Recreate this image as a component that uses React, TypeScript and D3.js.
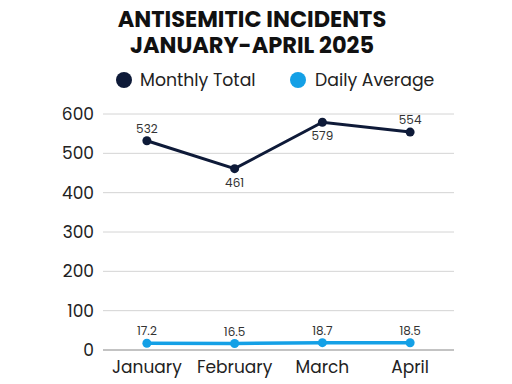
import React from "react";
import * as d3 from "d3";

const months = ["January", "February", "March", "April"];
const monthlyTotal = [532, 461, 579, 554];
const dailyAverage = [17.2, 16.5, 18.7, 18.5];
const monthlyLabelPos = ["above", "below", "below", "above"];
const yTicks = [0, 100, 200, 300, 400, 500, 600];
const titleLines = ["ANTISEMITIC INCIDENTS", "JANUARY-APRIL 2025"];
const legendItems = ["Monthly Total", "Daily Average"];

const NAVY = "#0e1a38";
const BLUE = "#14a0e6";
const FONT = "Poppins, 'Open Sans', Lato, sans-serif";

export default function App() {
  const W = 512, H = 384;
  const left = 103, right = 454, top = 114, bottom = 350;
  const x = d3.scaleBand<string>().domain(months).range([left, right]).padding(0);
  const cx = (m: string) => (x(m) as number) + x.bandwidth() / 2;
  const y = d3.scaleLinear().domain([0, 600]).range([bottom, top]);
  const line = d3.line<number>().x((_, i) => cx(months[i])).y((d) => y(d));

  return (
    <svg width={W} height={H} style={{ position: "absolute", left: 0, top: 0, background: "#fff" }}>
      <rect width={W} height={H} fill="#fff" />
      {titleLines.map((t, i) => (
        <text key={t} x={252} y={27 + i * 26} textAnchor="middle" fontFamily={FONT} fontWeight={700} fontSize={22.5} fill="#111">
          {t}
        </text>
      ))}
      {legendItems.map((l, i) => (
        <g key={l}>
          <circle cx={i === 0 ? 124 : 298} cy={80} r={8} fill={i === 0 ? NAVY : BLUE} />
          <text x={i === 0 ? 140 : 315} y={86} fontFamily={FONT} fontWeight={400} fontSize={17.3} fill="#222">{l}</text>
        </g>
      ))}
      {yTicks.map((t) => (
        <g key={t}>
          <line x1={left} x2={right} y1={y(t)} y2={y(t)} stroke={t === 0 ? "#888" : "#d4d4d4"} strokeWidth={t === 0 ? 1.2 : 1} />
          <text x={94} y={y(t) + 6} textAnchor="end" fontFamily={FONT} fontWeight={400} fontSize={17} fill="#222">{t}</text>
        </g>
      ))}
      {months.map((m) => (
        <text key={m} x={cx(m)} y={373} textAnchor="middle" fontFamily={FONT} fontWeight={400} fontSize={17} fill="#222">{m}</text>
      ))}
      <path d={line(monthlyTotal) || ""} fill="none" stroke={NAVY} strokeWidth={3} />
      <path d={line(dailyAverage) || ""} fill="none" stroke={BLUE} strokeWidth={3.5} />
      {monthlyTotal.map((v, i) => (
        <g key={"m" + i}>
          <circle cx={cx(months[i])} cy={y(v)} r={4.5} fill={NAVY} />
          <text x={cx(months[i])} y={monthlyLabelPos[i] === "above" ? y(v) - 8 : y(v) + 18} textAnchor="middle" fontFamily={FONT} fontWeight={400} fontSize={12} fill="#333">{v}</text>
        </g>
      ))}
      {dailyAverage.map((v, i) => (
        <g key={"d" + i}>
          <circle cx={cx(months[i])} cy={y(v)} r={4.5} fill={BLUE} />
          <text x={cx(months[i])} y={y(v) - 8} textAnchor="middle" fontFamily={FONT} fontWeight={400} fontSize={12} fill="#333">{v.toFixed(1)}</text>
        </g>
      ))}
    </svg>
  );
}
